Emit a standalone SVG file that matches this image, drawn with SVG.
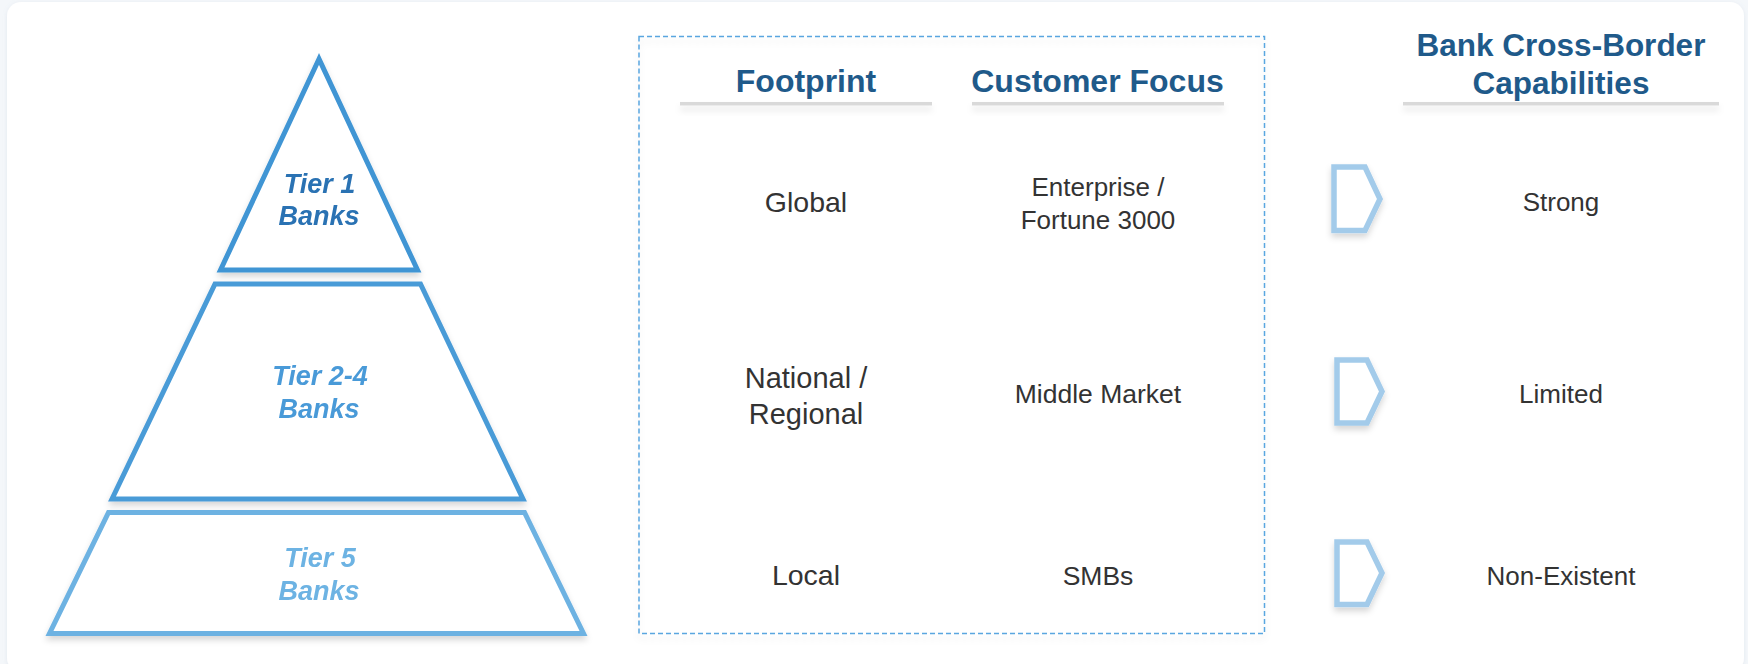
<svg xmlns="http://www.w3.org/2000/svg" width="1748" height="664" viewBox="0 0 1748 664">
  <defs>
    <filter id="shadow" x="-20%" y="-20%" width="140%" height="150%">
      <feDropShadow dx="0" dy="4" stdDeviation="3" flood-color="#000" flood-opacity="0.16"/>
    </filter>
    <filter id="barShadow" x="-5%" y="-200%" width="110%" height="600%">
      <feDropShadow dx="0" dy="5" stdDeviation="3" flood-color="#000" flood-opacity="0.10"/>
    </filter>
    <filter id="cardShadow" x="-2%" y="-2%" width="104%" height="104%">
      <feDropShadow dx="0" dy="1" stdDeviation="2" flood-color="#8aa0b8" flood-opacity="0.18"/>
    </filter>
  </defs>
  <style>
    .tier { fill: #ffffff; stroke-width: 5; stroke-linejoin: miter; stroke-miterlimit: 10; }
    .tierLabel { font-family: "Liberation Sans", Arial, sans-serif; font-weight: bold; font-style: italic; font-size: 27px; text-anchor: middle; }
    .head { font-family: "Liberation Sans", Arial, sans-serif; font-weight: bold; fill: #1f5a8a; text-anchor: middle; }
    .body { font-family: "Liberation Sans", Arial, sans-serif; fill: #333333; text-anchor: middle; }
    .bar { fill: #d9d9d9; }
    .chevron { fill: #ffffff; stroke: #a3cbea; stroke-width: 5.5; stroke-linejoin: miter; }
  </style>

  <!-- page and card -->
  <rect x="0" y="0" width="1748" height="664" fill="#f4f7fa"/>
  <rect x="7" y="2" width="1737" height="670" rx="14" fill="#ffffff" filter="url(#cardShadow)"/>

  <!-- pyramid -->
  <g id="tier1" filter="url(#shadow)">
    <polygon class="tier" stroke="#3f95d4" points="319,59 220.5,270 417.5,270"/>
    <text class="tierLabel" fill="#2a72b3" x="319.5" y="193">Tier 1</text>
    <text class="tierLabel" fill="#2a72b3" x="319" y="225">Banks</text>
  </g>
  <g id="tier2-4" filter="url(#shadow)">
    <polygon class="tier" stroke="#4a9bd7" points="215,284 420.5,284 523,499 112,499"/>
    <text class="tierLabel" fill="#4a9ad8" x="320" y="385">Tier 2-4</text>
    <text class="tierLabel" fill="#4a9ad8" x="319" y="418">Banks</text>
  </g>
  <g id="tier5" filter="url(#shadow)">
    <polygon class="tier" stroke="#6db2e2" points="108.5,512.5 524.5,512.5 583.5,633.5 49.5,633.5"/>
    <text class="tierLabel" fill="#6db3e3" x="320" y="566.5">Tier 5</text>
    <text class="tierLabel" fill="#6db3e3" x="319" y="600">Banks</text>
  </g>

  <!-- dashed table frame -->
  <g id="table-frame">
    <rect x="639" y="36.5" width="625.5" height="597" fill="none" stroke="#5aa6e0" stroke-width="1.5" stroke-dasharray="5,3" filter="url(#barShadow)"/>
  </g>

  <!-- column headers -->
  <g id="header-footprint">
    <text class="head" x="806" y="91.5" font-size="32">Footprint</text>
    <rect class="bar" x="680" y="102" width="252" height="3.5" filter="url(#barShadow)"/>
  </g>
  <g id="header-customer">
    <text class="head" x="1097.5" y="91.5" font-size="32">Customer Focus</text>
    <rect class="bar" x="972" y="102" width="252" height="3.5" filter="url(#barShadow)"/>
  </g>
  <g id="header-capabilities">
    <text class="head" x="1561" y="56" font-size="31.5">Bank Cross-Border</text>
    <text class="head" x="1561" y="94" font-size="31.5">Capabilities</text>
    <rect class="bar" x="1403" y="102" width="316" height="3.5" filter="url(#barShadow)"/>
  </g>

  <!-- footprint column -->
  <g id="footprint-global">
    <text class="body" x="806" y="211.5" font-size="28.5">Global</text>
  </g>
  <g id="footprint-national">
    <text class="body" x="806" y="388" font-size="29">National /</text>
    <text class="body" x="806" y="424" font-size="29">Regional</text>
  </g>
  <g id="footprint-local">
    <text class="body" x="806" y="585" font-size="28.5">Local</text>
  </g>

  <!-- customer focus column -->
  <g id="customer-enterprise">
    <text class="body" x="1098" y="195.5" font-size="26">Enterprise /</text>
    <text class="body" x="1098" y="228.5" font-size="26">Fortune 3000</text>
  </g>
  <g id="customer-middle">
    <text class="body" x="1098" y="402.5" font-size="26.5">Middle Market</text>
  </g>
  <g id="customer-smb">
    <text class="body" x="1098" y="585" font-size="26.5">SMBs</text>
  </g>

  <!-- connectors: chevrons pointing to capability level -->
  <g id="connectors" filter="url(#shadow)">
    <polygon class="chevron" points="1334,167 1365,167 1380,199 1365,230.5 1334,230.5"/>
    <polygon class="chevron" points="1337,360 1367,360 1382,391.5 1367,423 1337,423"/>
    <polygon class="chevron" points="1337,542 1367,542 1382,573 1367,604.5 1337,604.5"/>
  </g>

  <!-- capability column -->
  <g id="capability-strong">
    <text class="body" x="1561" y="211" font-size="26">Strong</text>
  </g>
  <g id="capability-limited">
    <text class="body" x="1561" y="403" font-size="26">Limited</text>
  </g>
  <g id="capability-none">
    <text class="body" x="1561" y="585" font-size="26">Non-Existent</text>
  </g>
</svg>
